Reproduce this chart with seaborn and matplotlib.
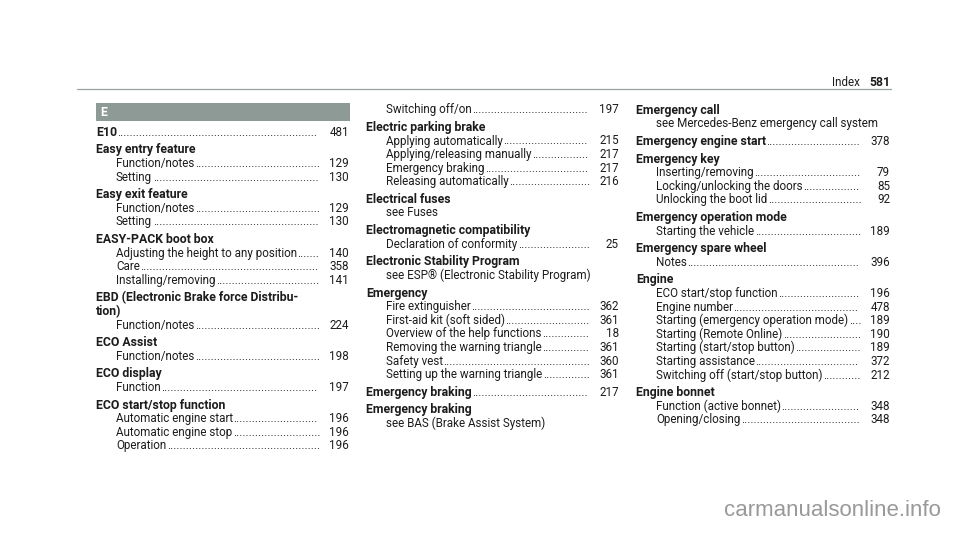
import matplotlib
matplotlib.use("Agg")
import matplotlib.pyplot as plt
import seaborn as sns
from matplotlib.patches import Rectangle

# index entries: (kind, text, page)  h = heading, c = heading continued, s = sub entry
col1 = [
    ("h", "E10", 481),
    ("h", "Easy entry feature", None),
    ("s", "Function/notes", 129),
    ("s", "Setting", 130),
    ("h", "Easy exit feature", None),
    ("s", "Function/notes", 129),
    ("s", "Setting", 130),
    ("h", "EASY-PACK boot box", None),
    ("s", "Adjusting the height to any position", 140),
    ("s", "Care", 358),
    ("s", "Installing/removing", 141),
    ("h", "EBD (Electronic Brake force Distribu-", None),
    ("c", "tion)", None),
    ("s", "Function/notes", 224),
    ("h", "ECO Assist", None),
    ("s", "Function/notes", 198),
    ("h", "ECO display", None),
    ("s", "Function", 197),
    ("h", "ECO start/stop function", None),
    ("s", "Automatic engine start", 196),
    ("s", "Automatic engine stop", 196),
    ("s", "Operation", 196),
]

col2 = [
    ("s", "Switching off/on", 197),
    ("h", "Electric parking brake", None),
    ("s", "Applying automatically", 215),
    ("s", "Applying/releasing manually", 217),
    ("s", "Emergency braking", 217),
    ("s", "Releasing automatically", 216),
    ("h", "Electrical fuses", None),
    ("s", "see Fuses", None),
    ("h", "Electromagnetic compatibility", None),
    ("s", "Declaration of conformity", 25),
    ("h", "Electronic Stability Program", None),
    ("s", "see ESP® (Electronic Stability Program)", None),
    ("h", "Emergency", None),
    ("s", "Fire extinguisher", 362),
    ("s", "First-aid kit (soft sided)", 361),
    ("s", "Overview of the help functions", 18),
    ("s", "Removing the warning triangle", 361),
    ("s", "Safety vest", 360),
    ("s", "Setting up the warning triangle", 361),
    ("h", "Emergency braking", 217),
    ("h", "Emergency braking", None),
    ("s", "see BAS (Brake Assist System)", None),
]

col3 = [
    ("h", "Emergency call", None),
    ("s", "see Mercedes-Benz emergency call system", None),
    ("h", "Emergency engine start", 378),
    ("h", "Emergency key", None),
    ("s", "Inserting/removing", 79),
    ("s", "Locking/unlocking the doors", 85),
    ("s", "Unlocking the boot lid", 92),
    ("h", "Emergency operation mode", None),
    ("s", "Starting the vehicle", 189),
    ("h", "Emergency spare wheel", None),
    ("s", "Notes", 396),
    ("h", "Engine", None),
    ("s", "ECO start/stop function", 196),
    ("s", "Engine number", 478),
    ("s", "Starting (emergency operation mode)", 189),
    ("s", "Starting (Remote Online)", 190),
    ("s", "Starting (start/stop button)", 189),
    ("s", "Starting assistance", 372),
    ("s", "Switching off (start/stop button)", 212),
    ("h", "Engine bonnet", None),
    ("s", "Function (active bonnet)", 348),
    ("s", "Opening/closing", 348),
]

section_letter = "E"
page_label = "Index"
page_number = "581"
watermark = "carmanualsonline.info"

FS = 8.4      # sub entries / page numbers
FS_HEAD = 8.8  # bold headings
TXT = "#1c1c1c"
LINE_STEP = 13.6
HEAD_STEP = 17.6
BASE = 3.8

sns.set_theme(style="white")
plt.rcParams["font.family"] = ["Roboto", "DejaVu Sans"]

fig = plt.figure(figsize=(9.6, 5.33), dpi=100)
ax = fig.add_axes([0, 0, 1, 1])
ax.set_xlim(0, 960)
ax.set_ylim(533, 0)
ax.axis("off")

renderer = fig.canvas.get_renderer()
inv = ax.transData.inverted()

probe = ax.text(0, 0, "." * 40, fontsize=FS)
dot_w = probe.get_window_extent(renderer).width / 40
probe.remove()


def right_edge(t):
    bb = t.get_window_extent(renderer)
    return inv.transform((bb.x1, bb.y0))[0]


def draw_column(entries, x0, right, y):
    for i, (kind, label, page) in enumerate(entries):
        if i > 0:
            y += HEAD_STEP if kind == "h" else LINE_STEP
        bold = kind in ("h", "c")
        x = x0 if bold else x0 + 20
        t = ax.text(x, y + BASE, label, fontsize=FS_HEAD if bold else FS,
                    va="baseline", ha="left",
                    fontweight="bold" if bold else "normal", color=TXT)
        if page is not None:
            start = right_edge(t) + 0.5
            n = int(round((right - 30 - start) / dot_w))
            ax.text(start, y + BASE, "." * max(n, 0), fontsize=FS, va="baseline",
                    ha="left", color=TXT)
            ax.text(right, y + BASE, str(page), fontsize=FS, va="baseline",
                    ha="right", color=TXT)


# header rule and page label
ax.plot([77, 891], [89, 89], color="#9aa3a1", linewidth=0.9)
ax.text(860, 86.5, page_label, fontsize=FS, ha="right", va="baseline", color=TXT)
ax.text(890, 86.5, page_number, fontsize=FS_HEAD, ha="right", va="baseline",
        fontweight="bold", color=TXT)

# section letter box
ax.add_patch(Rectangle((96, 103), 254, 18, color="#8e9a96", lw=0))
ax.text(100, 112 + BASE, section_letter, fontsize=FS_HEAD, fontweight="bold",
        color="white", va="baseline")

draw_column(col1, 96, 349, 132)
draw_column(col2, 366, 619, 109.5)
draw_column(col3, 636, 890, 110)

ax.text(941, 516, watermark, fontsize=16, ha="right", va="baseline",
        color="#999999", family=["Liberation Sans", "DejaVu Sans"])

fig.savefig("out.png", dpi=100)
